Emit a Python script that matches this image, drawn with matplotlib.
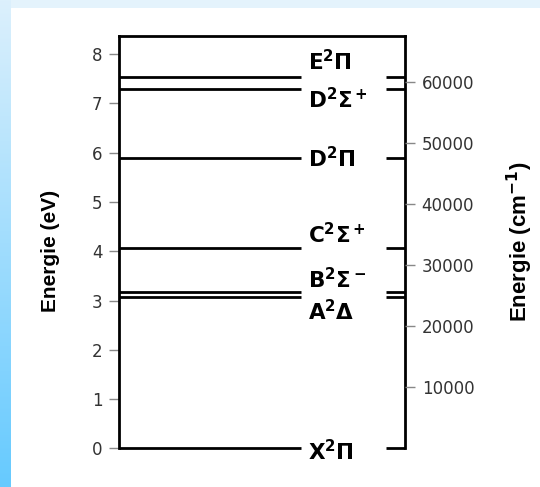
import numpy as np
import matplotlib.pyplot as plt
from matplotlib.colors import LinearSegmentedColormap

# electronic states and term energies (eV)
states = [r'X^2\Pi', r'A^2\Delta', r'B^2\Sigma^-', r'C^2\Sigma^+',
          r'D^2\Pi', r'D^2\Sigma^+', r'E^2\Pi']
energies_ev = [0.0, 3.07, 3.17, 4.07, 5.89, 7.30, 7.54]
label_y = [-0.07, 2.77, 3.42, 4.33, 5.89, 7.08, 7.85]

ev_ticks = [0, 1, 2, 3, 4, 5, 6, 7, 8]
cm_ticks = [10000, 20000, 30000, 40000, 50000, 60000]
EV_TO_CM = 8065.54
ymax = 8.37

W, H = 540, 487
fig = plt.figure(figsize=(W / 100, H / 100), dpi=100)
fig.patch.set_facecolor('#e4f3fc')

# blue strip on the left edge
strip = fig.add_axes([0, 0, 11 / W, 1])
grad = np.linspace(0, 1, 256).reshape(-1, 1)
cmap = LinearSegmentedColormap.from_list('strip', ['#dcf0fc', '#66caff'])
strip.imshow(grad, aspect='auto', cmap=cmap, extent=[0, 1, 0, 1], origin='upper')
strip.axis('off')

# white panel
panel = fig.add_axes([11 / W, 0, 1 - 11 / W, 1 - 8 / H])
panel.add_patch(plt.Rectangle((0, 0), 1, 1, color='white', transform=panel.transAxes))
panel.axis('off')

x0, x1 = 119, 405
y_top, y_zero = 36, 448.3
ax = fig.add_axes([x0 / W, 1 - y_zero / H, (x1 - x0) / W, (y_zero - y_top) / H])
ax.set_xlim(0, 1)
ax.set_ylim(0, ymax)
ax.patch.set_alpha(0)

tick_kw = dict(direction='out', length=7, width=1, color='#888888',
               labelcolor='#333333', labelsize=12)
ax.set_xticks([])
ax.set_yticks(ev_ticks)
ax.tick_params(axis='y', pad=5, **tick_kw)
ax.spines['bottom'].set_visible(False)
for s in ['left', 'right', 'top']:
    ax.spines[s].set_linewidth(2)
ax.set_ylabel('Energie (eV)', fontsize=15, fontweight='bold',
              family='Liberation Sans')
ax.yaxis.set_label_coords(-0.205, 0.478)

left_end, right_start = 0.636, 0.933
for e, name, ly in zip(energies_ev, states, label_y):
    ax.plot([0, left_end], [e, e], color='black', lw=2, solid_capstyle='butt',
            clip_on=False)
    ax.plot([right_start, 1], [e, e], color='black', lw=2, solid_capstyle='butt',
            clip_on=False)
    ax.text(0.661, ly, r'$\mathbf{' + name + '}$', ha='left', va='center',
            fontsize=15.5, clip_on=False)

ax2 = ax.twinx()
ax2.set_ylim(0, ymax * EV_TO_CM)
ax2.set_yticks(cm_ticks)
ax2.tick_params(axis='y', pad=5, **tick_kw)
for s in ax2.spines.values():
    s.set_visible(False)
ax2.set_ylabel(r'Energie (cm$^{\mathbf{-1}}$)', fontsize=16, fontweight='bold',
               family='Liberation Sans', labelpad=22)

fig.savefig('out.png', dpi=100, facecolor=fig.get_facecolor())
